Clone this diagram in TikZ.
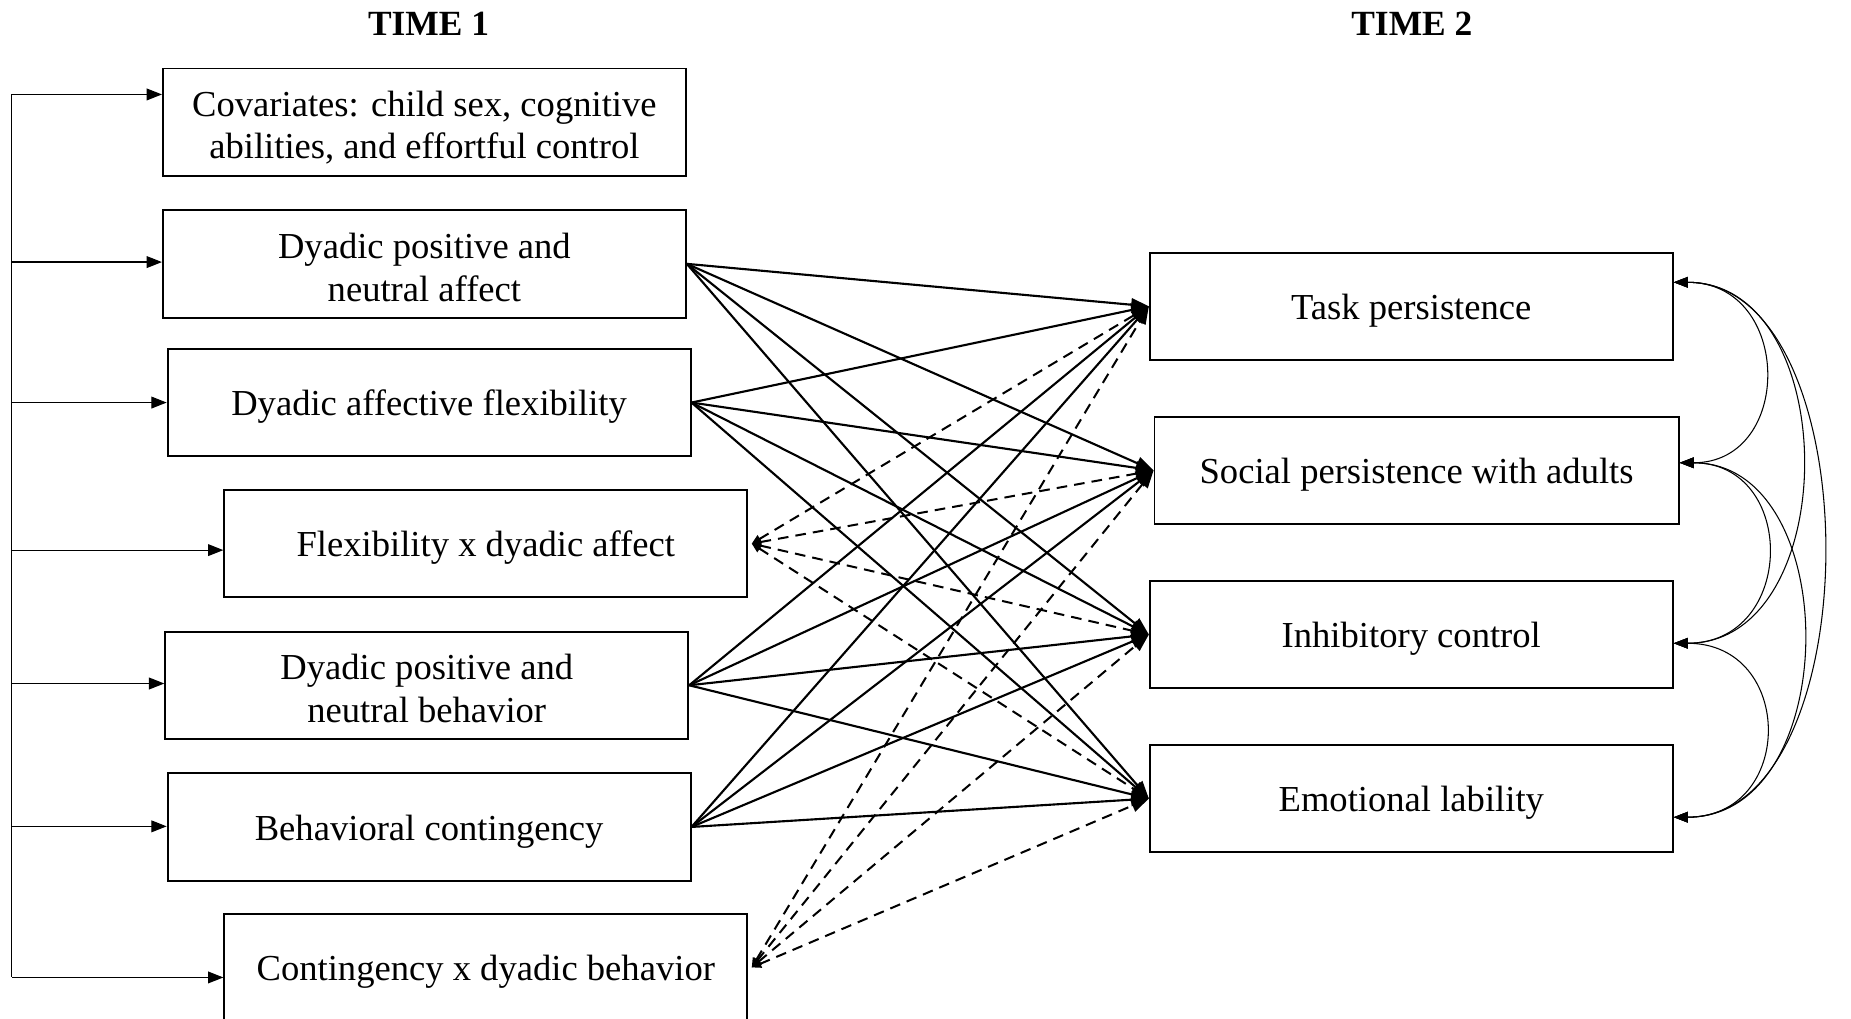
\documentclass[tikz,border=0pt]{standalone}
\usepackage{fontspec}
\setmainfont{Liberation Serif}
\usetikzlibrary{arrows.meta,calc}
\newcommand{\topstrut}{\rule[-8pt]{0pt}{38.4pt}}
\newcommand{\botstrut}{\rule[-8pt]{0pt}{8pt}}
\newcommand{\firstline}{\rule{0pt}{31pt}}
\newcommand{\lastline}{\rule[-4pt]{0pt}{4pt}}
\begin{document}
\begin{tikzpicture}[x=1pt,y=-1pt,
  boxbase/.style={draw, line width=1.6pt, minimum width=443pt, minimum height=91pt, inner sep=0pt, align=center, font=\fontsize{31}{36}\selectfont},
  box/.style={boxbase, execute at begin node=\topstrut, execute at end node=\botstrut},
  boxtwo/.style={boxbase},
  lbl/.style={font=\fontsize{30}{36}\selectfont\bfseries},
  feed/.style={line width=1pt, -{Triangle[length=13pt,width=10pt]}},
  pathline/.style={line width=1.8pt, -{Triangle[length=15pt,width=11pt]}},
  inter/.style={line width=1.7pt, dash pattern=on 9pt off 6pt, {Triangle[length=8pt,width=7pt]}-{Triangle[length=15pt,width=11pt]}},
  covar/.style={line width=0.9pt, {Triangle[length=12pt,width=9pt]}-{Triangle[length=12pt,width=9pt]}}
]
\useasboundingbox (0,0) rectangle (1568,863);
\clip (0,0) rectangle (1568,863);

% headers
\node[lbl] (t1) at (363,20) {TIME 1};
\node[lbl] (t2) at (1196,20) {TIME 2};

% Time 1 boxes
\node[boxtwo] (cov) at (359.5,103.5) {\firstline Covariates: child sex, cognitive\\abilities, and effortful control\lastline};
\node[boxtwo] (aff) at (359.5,223.5) {\firstline Dyadic positive and\\neutral affect\lastline};
\node[box] (flex) at (363.5,341) {Dyadic affective flexibility};
\node[box] (fxa) at (411.5,460.5) {Flexibility x dyadic affect};
\node[boxtwo] (beh) at (361.5,580.5) {\firstline Dyadic positive and\\neutral behavior\lastline};
\node[box] (bcon) at (363.5,700.5) {Behavioral contingency};
\node[box] (cxb) at (411.5,819.5) {Contingency x dyadic behavior};

% Time 2 boxes
\node[box] (task) at (1195.5,259.5) {Task persistence};
\node[box, minimum width=444pt] (soc) at (1200,398.5) {Social persistence with adults};
\node[box] (inh) at (1195.5,537.5) {Inhibitory control};
\node[box] (emo) at (1195.5,676.5) {Emotional lability};

% left bracket
\coordinate (b1) at (10,80);
\coordinate (b2) at (10,222);
\coordinate (b3) at (10,341);
\coordinate (b4) at (10,466);
\coordinate (b5) at (10,579);
\coordinate (b6) at (10,700);
\coordinate (b7) at (10,828);
\draw[line width=1pt] (b1) -- (b7);
\draw[feed] (b1) -- (b1 -| cov.west);
\draw[feed] (b2) -- (b2 -| aff.west);
\draw[feed] (b3) -- (b3 -| flex.west);
\draw[feed] (b4) -- (b4 -| fxa.west);
\draw[feed] (b5) -- (b5 -| beh.west);
\draw[feed] (b6) -- (b6 -| bcon.west);
\draw[feed] (b7) -- (b7 -| cxb.west);

% main effects
\foreach \s in {aff,flex,beh,bcon}{
  \foreach \t in {task,soc,inh,emo}{
    \draw[pathline] (\s.east) -- (\t.west);
  }
}
% interactions
\foreach \s in {fxa,cxb}{
  \foreach \t in {task,soc,inh,emo}{
    \draw[inter] ([xshift=3pt]\s.east) -- (\t.west);
  }
}

% correlations among outcomes
\coordinate (tR) at ($(task.north east)!0.28!(task.south east)$);
\coordinate (sR) at ($(soc.north east)!0.43!(soc.south east)$);
\coordinate (iR) at ($(inh.north east)!0.58!(inh.south east)$);
\coordinate (eR) at ($(emo.north east)!0.67!(emo.south east)$);
\draw[covar] (tR) .. controls +(101,0) and +(97,0) .. (sR);
\draw[covar] (tR) .. controls +(144,0) and +(144,0) .. (iR);
\draw[covar] (tR) .. controls +(168,0) and +(168,0) .. (eR);
\draw[covar] (sR) .. controls +(100,0) and +(104,0) .. (iR);
\draw[covar] (sR) .. controls +(140,0) and +(144,0) .. (eR);
\draw[covar] (iR) .. controls +(103,0) and +(103,0) .. (eR);
\end{tikzpicture}
\end{document}
